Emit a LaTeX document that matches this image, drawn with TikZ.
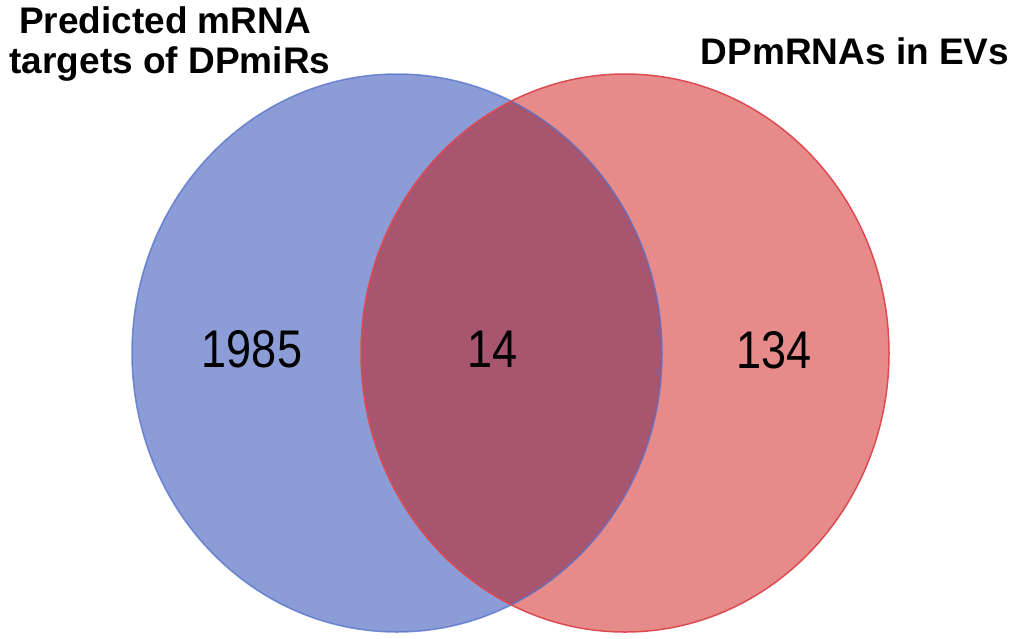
\documentclass[tikz,border=0pt]{standalone}
\usepackage{fontspec}
\setmainfont{Liberation Sans}
\usetikzlibrary{positioning}
\definecolor{bluefill}{HTML}{8C9CD7}
\definecolor{blueline}{HTML}{5470CC}
\definecolor{redfill}{HTML}{E68A8A}
\definecolor{redline}{HTML}{DC4B52}
\definecolor{bothfill}{HTML}{A8566F}
\begin{document}
\begin{tikzpicture}[x=1pt, y=-1pt,
    setlabel/.style={anchor=base, inner sep=0pt, font=\bfseries\fontsize{37}{40}\selectfont},
    count/.style={anchor=base, inner sep=0pt, xscale=0.85, font=\fontsize{53}{60}\selectfont}]
    \useasboundingbox (0,0) rectangle (1010,638);

    % Sets
    \fill[bluefill] (397,353) ellipse [x radius=265pt, y radius=279pt];
    \fill[redfill] (625,353) ellipse [x radius=264pt, y radius=279pt];
    \begin{scope}
        \clip (397,353) ellipse [x radius=265pt, y radius=279pt];
        \fill[bothfill] (625,353) ellipse [x radius=264pt, y radius=279pt];
    \end{scope}
    \draw[blueline, line width=1.5pt, draw opacity=0.75] (397,353) ellipse [x radius=265pt, y radius=279pt];
    \draw[redline, line width=1.5pt] (625,353) ellipse [x radius=264pt, y radius=279pt];

    % Labels
    \node[setlabel] (targets1) at (165,33) {Predicted mRNA};
    \node[setlabel] (targets2) at (170,73) {targets of DPmiRs};
    \node[setlabel] (evs) at (855,64) {DPmRNAs in EVs};

    % Counts
    \node[count] (onlymiR) at (252,367) {1985};
    \node[count] (both) at (493,367) {14};
    \node[count] (onlyEV) at (774,368) {134};
\end{tikzpicture}
\end{document}
